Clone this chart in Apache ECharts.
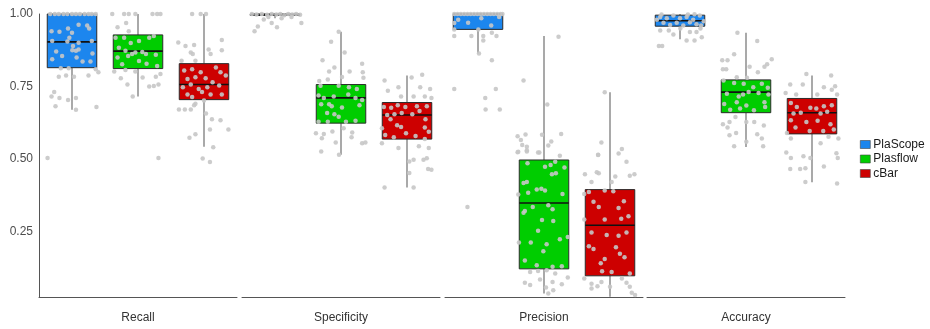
<!DOCTYPE html>
<html>
<head>
<meta charset="utf-8">
<script src="https://cdn.jsdelivr.net/npm/echarts@6/dist/echarts.min.js"></script>
<style>
  html, body { margin: 0; padding: 0; background: #fff; }
  #chart { width: 930px; height: 329px; }
</style>
</head>
<body>
<div id="chart"></div>
<script>
// Facets and tools
const metrics = ['Recall', 'Specificity', 'Precision', 'Accuracy'];
const tools = ['PlaScope', 'Plasflow', 'cBar'];
const toolColors = ['#1C86EE', '#00CD00', '#CD0000'];
const yTicks = [0.25, 0.5, 0.75, 1.0];

// Box statistics per tool: [lower whisker, Q1, median, Q3, upper whisker]
const recallBoxes = [
  [0.670, 0.815, 0.904, 1.000, 1.000],
  [0.716, 0.812, 0.872, 0.928, 1.000],
  [0.543, 0.705, 0.757, 0.829, 1.000]
];
const specificityBoxes = [
  [0.985, 0.995, 0.998, 1.000, 1.000],
  [0.515, 0.624, 0.711, 0.757, 0.939],
  [0.402, 0.569, 0.652, 0.695, 0.788]
];
const precisionBoxes = [
  [0.864, 0.947, 1.000, 1.000, 1.000],
  [0.037, 0.122, 0.349, 0.497, 0.924],
  [0.026, 0.098, 0.272, 0.395, 0.730]
];
const accuracyBoxes = [
  [0.913, 0.958, 0.977, 0.996, 1.000],
  [0.542, 0.660, 0.731, 0.773, 0.935],
  [0.420, 0.587, 0.660, 0.709, 0.788]
];

// Per-sample scores: [jitter, value]
const recallPlaScope = [
  [-0.33,1],[-0.26,1],[-0.2,1],[-0.13,1],[-0.07,1],[0,1],[0.06,1],[0.12,1],[0.19,1],[0.25,1],[0.3,1],[0.36,1],
  [-0.31,0.941],[-0.19,0.939],[-0.06,0.95],[0,0.935],[0.1,0.963],[0.23,0.96],[0.26,0.95],[-0.3,0.907],
  [-0.04,0.918],[0.1,0.901],[0.3,0.907],[-0.24,0.871],[0.005,0.875],[0.06,0.873],[0.1,0.878],[0.31,0.864],
  [-0.3,0.844],[-0.15,0.855],[0.07,0.85],[0.16,0.836],[0.28,0.836],[0.015,0.89],[-0.07,0.905],
  [-0.2,0.784],[-0.09,0.788],[0.03,0.784],[0.25,0.788],[0.4,0.799],[-0.17,0.813],[-0.05,0.813],[0.36,0.81],
  [-0.27,0.731],[-0.31,0.716],[-0.19,0.711],[-0.06,0.704],[0.06,0.711],[-0.25,0.682],[0.06,0.67],[0.37,0.68],
  [-0.37,0.504]
];
const recallPlasflow = [
  [-0.39,1],[-0.21,1],[-0.14,1],[-0.04,1],[0.22,1],[0.29,1],[0.34,1],
  [-0.31,0.954],[-0.18,0.969],[-0.14,0.941],
  [-0.34,0.918],[-0.21,0.918],[-0.11,0.9],[0.015,0.907],[0.17,0.918],[0.24,0.924],[-0.29,0.884],[-0.19,0.873],
  [-0.04,0.867],[0.065,0.869],[0.27,0.86],[-0.31,0.85],[-0.15,0.855],[0.015,0.838],[0.13,0.829],[0.29,0.821],
  [-0.09,0.862],[0.12,0.862],[-0.24,0.827],
  [-0.36,0.802],[-0.19,0.807],[-0.04,0.802],[-0.26,0.779],[0.07,0.781],[0.27,0.784],[0.34,0.793],
  [-0.16,0.757],[0.17,0.75],[0.24,0.752],[0.31,0.757],[-0.08,0.716],[0.31,0.504]
];
const recallCBar = [
  [-0.18,1],[-0.05,1],[0.03,1],
  [-0.39,0.902],[-0.28,0.89],[-0.15,0.893],[0.07,0.878],[0.27,0.875],[0.27,0.91],[-0.2,0.867],[-0.17,0.862],
  [0.1,0.862],[-0.13,0.839],[-0.34,0.839],
  [-0.3,0.805],[-0.18,0.81],[-0.05,0.799],[0.18,0.816],[0.25,0.799],[-0.25,0.776],[-0.13,0.782],[0.025,0.779],
  [0.13,0.765],[0.33,0.788],[-0.32,0.748],[-0.2,0.757],[-0.08,0.742],[0.05,0.748],[0.23,0.754],[-0.25,0.723],
  [-0.18,0.714],[-0.03,0.731],[0.1,0.723],[0.27,0.723],
  [-0.13,0.691],[0,0.702],[-0.38,0.671],[-0.29,0.671],[-0.2,0.671],[-0.15,0.686],[0.03,0.657],[0.12,0.637],
  [0.25,0.634],[0.37,0.602],[0.09,0.602],[-0.13,0.586],[-0.22,0.574],[0.14,0.541],[-0.02,0.502],[0.09,0.49]
];

const specificityPlaScope = [
  [-0.35,1],[-0.28,0.998],[-0.2,1],[-0.12,0.997],[-0.05,1],[0.02,0.998],[0.08,1],[0.14,0.996],[0.2,1],
  [0.26,0.998],[0.32,1],[0.38,0.997],[-0.17,0.981],[-0.05,0.969],[0.03,0.954],[-0.26,0.957],[-0.31,0.941],
  [0.4,0.969],[0.25,0.99],[0.1,0.985],[-0.1,0.99]
];
const specificityPlasflow = [
  [-0.035,0.939],[-0.15,0.904],[0.055,0.867],[-0.28,0.841],[-0.1,0.816],[-0.18,0.802],[0.13,0.802],[0.32,0.829],
  [0.33,0.799],[-0.33,0.769],[-0.2,0.774],[0.015,0.783],[0.34,0.78],
  [-0.31,0.753],[-0.035,0.753],[0.12,0.748],[0.24,0.742],[-0.34,0.719],[-0.26,0.711],[-0.11,0.716],[0.11,0.723],
  [0.22,0.711],[0.32,0.704],[-0.3,0.689],[-0.18,0.689],[-0.14,0.682],[0.28,0.686],[-0.21,0.659],[-0.1,0.655],
  [-0.035,0.646],[-0.34,0.629],[-0.2,0.629],[0.075,0.629],[0.22,0.632],[0.015,0.678],
  [-0.38,0.589],[-0.26,0.587],[-0.13,0.595],[0.04,0.606],[0.17,0.592],[-0.29,0.572],[-0.08,0.557],[0.16,0.575],
  [0.32,0.555],[-0.3,0.526],[-0.03,0.515],[0.37,0.557]
];
const specificityCBar = [
  [-0.34,0.771],[-0.13,0.748],[-0.29,0.736],[0.07,0.781],[0.23,0.791],[0.2,0.748],[0.35,0.742],[0.1,0.716],
  [0.27,0.716],[-0.09,0.716],[0.37,0.711],
  [-0.35,0.68],[-0.24,0.677],[-0.14,0.686],[-0.025,0.68],[0.15,0.682],[0.3,0.682],[-0.3,0.652],[-0.19,0.655],
  [-0.08,0.659],[0.08,0.655],[0.19,0.666],[0.28,0.637],[-0.25,0.637],[-0.15,0.617],[-0.38,0.606],[-0.09,0.611],
  [0.27,0.609],[0.33,0.594],[-0.33,0.583],[-0.2,0.575],[0.13,0.58],[0.27,0.569],[-0.015,0.589],
  [-0.38,0.555],[-0.13,0.538],[0.18,0.544],[0.33,0.538],[0.035,0.492],[0.1,0.498],[0.25,0.498],[0.32,0.466],
  [0.37,0.463],[0.035,0.452],[-0.34,0.402],[0.1,0.402],[0.3,0.503]
];

const precisionPlaScope = [
  [-0.36,1],[-0.31,1],[-0.26,1],[-0.21,1],[-0.16,1],[-0.11,1],[-0.06,1],[-0.01,1],[0.04,1],[0.09,1],[0.14,1],
  [0.19,1],[0.24,1],[0.29,1],[0.34,1],[0.37,1],
  [-0.3,0.98],[-0.15,0.97],[0.05,0.985],[0.2,0.96],[0.32,0.99],[-0.36,0.969],[-0.36,0.947],[0.005,0.947],
  [-0.36,0.924],[-0.1,0.924],[0.08,0.924],[0.08,0.909],[0.21,0.935],[0.28,0.924],[0.015,0.864],[0.21,0.841],
  [-0.36,0.742],[0.27,0.742],[0.11,0.711],[0.115,0.671],[0.33,0.671],[-0.16,0.335]
];
const precisionPlasflow = [
  [0.22,0.922],[-0.31,0.771],[0.05,0.688],[-0.4,0.579],[-0.28,0.585],[-0.35,0.566],[-0.33,0.549],[-0.26,0.543],
  [-0.4,0.524],[-0.26,0.526],[-0.03,0.584],[0.26,0.587],[0.11,0.561],[0.065,0.547],[-0.07,0.523],
  [-0.39,0.525],[-0.26,0.531],[-0.09,0.523],[0.24,0.512],[-0.25,0.486],[0.015,0.474],[0.1,0.48],[0.17,0.491],
  [0.31,0.471],[0.12,0.448],[0.18,0.451],[-0.31,0.418],[-0.26,0.421],[-0.11,0.395],[-0.04,0.398],[0.015,0.392],
  [-0.24,0.384],[0.28,0.38],[-0.39,0.378],[-0.17,0.335],[0.065,0.341],[0.13,0.327],[-0.29,0.321],[-0.31,0.315],
  [-0.03,0.29],[0.14,0.287],[-0.09,0.253],[0.24,0.224],[-0.2,0.213],[0.04,0.207],[0.36,0.232],[-0.38,0.213],
  [-0.01,0.183],[-0.29,0.151],[0.13,0.129],[-0.11,0.134],[0.27,0.131],[-0.21,0.111],[-0.09,0.115],[0.04,0.117],
  [0.17,0.106],[-0.29,0.074],[-0.21,0.066],[0.13,0.077],[0.27,0.069],[0.36,0.092],[0.03,0.058],[0.065,0.037],
  [0.14,0.048],[-0.06,0.085]
];
const precisionCBar = [
  [-0.08,0.73],[-0.13,0.557],[0.18,0.535],[-0.18,0.515],
  [-0.18,0.514],[0.13,0.519],[0.25,0.491],[-0.38,0.448],[-0.2,0.455],[-0.17,0.451],[0.08,0.44],[0.3,0.443],
  [-0.28,0.421],[0.025,0.421],[0.37,0.448],[-0.39,0.38],[-0.32,0.387],[-0.08,0.392],[0.05,0.389],[-0.25,0.353],
  [-0.17,0.335],[0.21,0.355],[0.13,0.332],[-0.39,0.292],[-0.08,0.292],[0.17,0.295],[0.28,0.303],[-0.28,0.247],
  [-0.05,0.239],[0.13,0.236],[0.25,0.247],[-0.32,0.2],[-0.25,0.19],[0.09,0.196],[-0.08,0.156],[0.15,0.174],
  [0.22,0.162],[-0.12,0.114],[0.025,0.111],[-0.14,0.141],[0.3,0.106],[-0.39,0.089],[-0.28,0.071],[-0.19,0.062],
  [-0.13,0.077],[0.25,0.074],[0.3,0.06],[0.18,0.089],[-0.28,0.054],[0,0.06],[0.33,0.04],[0.38,0.032]
];

const accuracyPlaScope = [
  [-0.3,0.99],[-0.2,0.985],[-0.1,0.995],[0,0.985],[0.1,0.99],[0.2,0.98],[0.3,0.995],[0.36,0.975],[-0.25,0.97],
  [-0.05,0.97],[0.15,0.972],[0.25,0.965],[-0.35,0.98],[0.05,0.96],[-0.15,0.962],[0.32,0.96],[-0.28,0.998],
  [0.12,0.998],[0.22,0.999],
  [-0.3,0.943],[-0.17,0.943],[0.005,0.95],[0.31,0.95],[0.25,0.938],[0.15,0.938],[0.1,0.909],[0.22,0.909],
  [0.33,0.92],[-0.1,0.929],[-0.32,0.89],[-0.27,0.89]
];
const accuracyPlasflow = [
  [-0.13,0.935],[0.17,0.907],[-0.36,0.841],[-0.28,0.841],[-0.18,0.861],[0.39,0.844],[0.32,0.827],[-0.35,0.81],
  [-0.3,0.81],[0.055,0.818],[0.18,0.799],[0.28,0.818],[-0.14,0.782],[0.015,0.78],
  [-0.34,0.771],[-0.18,0.762],[-0.035,0.76],[0.11,0.748],[0.24,0.76],[0.33,0.746],[-0.29,0.725],[-0.11,0.716],
  [-0.045,0.723],[0.04,0.731],[0.19,0.728],[0.34,0.723],[-0.33,0.69],[-0.14,0.696],[0.005,0.685],[0.28,0.696],
  [-0.24,0.67],[-0.09,0.674],[0.12,0.668],[0.29,0.68],
  [-0.16,0.645],[-0.25,0.628],[-0.35,0.62],[-0.28,0.609],[0.005,0.628],[0.125,0.628],[0.27,0.616],[-0.15,0.59],
  [-0.25,0.582],[0.17,0.586],[0.005,0.56],[0.24,0.571],[-0.18,0.544],[0.26,0.544]
];
const accuracyCBar = [
  [-0.085,0.793],[0.29,0.788],[-0.33,0.757],[-0.14,0.757],[0.18,0.748],[0.3,0.739],[0.35,0.751],[-0.4,0.728],
  [-0.24,0.723],[0.08,0.723],[0.38,0.723],
  [-0.32,0.693],[-0.23,0.68],[-0.025,0.677],[0.065,0.674],[0.18,0.682],[0.3,0.686],[-0.28,0.657],[-0.17,0.66],
  [0.13,0.657],[0.23,0.663],[-0.32,0.634],[-0.085,0.628],[0.085,0.632],[0.28,0.62],[-0.25,0.609],[-0.035,0.597],
  [0.17,0.597],[0.33,0.602],[-0.38,0.59],
  [-0.32,0.571],[0.13,0.555],[0.25,0.577],[0.4,0.571],[-0.39,0.523],[-0.32,0.504],[-0.13,0.51],[-0.025,0.504],
  [0.37,0.52],[0.39,0.504],[-0.18,0.466],[-0.33,0.466],[-0.1,0.469],[0.18,0.475],[-0.1,0.421],[0.38,0.416]
];

const boxesByMetric = [recallBoxes, specificityBoxes, precisionBoxes, accuracyBoxes];
const pointsByMetric = [
  [recallPlaScope, recallPlasflow, recallCBar],
  [specificityPlaScope, specificityPlasflow, specificityCBar],
  [precisionPlaScope, precisionPlasflow, precisionCBar],
  [accuracyPlaScope, accuracyPlasflow, accuracyCBar]
];

const FONT = '"Liberation Sans", Arial, sans-serif';
const panelLeft = [39, 242, 445, 647];
const panelWidth = 198;
const Y_MIN = 0.025, Y_MAX = 1.0;

// Whiskers, box and median drawn in data coordinates of the panel's axes
function renderBox(params, api) {
  const x = api.value(0);
  const pLo = api.coord([x, api.value(1)]);
  const pQ1 = api.coord([x, api.value(2)]);
  const pMed = api.coord([x, api.value(3)]);
  const pQ3 = api.coord([x, api.value(4)]);
  const pHi = api.coord([x, api.value(5)]);
  const w = api.size([0.75, 0])[0];
  const cx = pLo[0];
  const whisker = { stroke: '#8c8c8c', lineWidth: 1.5 };
  return {
    type: 'group',
    children: [
      { type: 'line', shape: { x1: cx, y1: pHi[1], x2: cx, y2: pQ3[1] }, style: whisker },
      { type: 'line', shape: { x1: cx, y1: pQ1[1], x2: cx, y2: pLo[1] }, style: whisker },
      { type: 'rect', shape: { x: cx - w / 2, y: pQ3[1], width: w, height: Math.max(pQ1[1] - pQ3[1], 0.5) },
        style: { fill: api.visual('color'), stroke: '#2b2b2b', lineWidth: 1 } },
      { type: 'line', shape: { x1: cx - w / 2, y1: pMed[1], x2: cx + w / 2, y2: pMed[1] },
        style: { stroke: '#111', lineWidth: 1.6 } }
    ]
  };
}

const grid = [], xAxis = [], yAxis = [], series = [];
metrics.forEach((m, i) => {
  grid.push({ left: panelLeft[i], width: panelWidth, top: 14, height: 286 });
  xAxis.push({
    type: 'value', gridIndex: i, min: -0.5, max: 2.5,
    name: m, nameLocation: 'middle', nameGap: 15,
    nameTextStyle: { fontFamily: FONT, fontSize: 12, color: '#333' },
    axisLine: { show: true, onZero: false, lineStyle: { color: '#555', width: 1 } },
    axisTick: { show: false }, axisLabel: { show: false }, splitLine: { show: false }
  });
  yAxis.push({
    type: 'value', gridIndex: i, min: Y_MIN, max: Y_MAX,
    axisLine: { show: i === 0, onZero: false, lineStyle: { color: '#555', width: 1 } },
    axisTick: { show: false },
    axisLabel: {
      show: i === 0, customValues: yTicks, margin: 6,
      formatter: v => v.toFixed(2),
      fontFamily: FONT, fontSize: 12, color: '#4d4d4d'
    },
    splitLine: { show: false }
  });
  tools.forEach((t, k) => {
    series.push({
      type: 'custom', name: t, xAxisIndex: i, yAxisIndex: i,
      itemStyle: { color: toolColors[k] },
      renderItem: renderBox,
      encode: { x: 0, y: [1, 2, 3, 4, 5] },
      data: [[k].concat(boxesByMetric[i][k])],
      z: 2
    });
  });
  const pts = [];
  pointsByMetric[i].forEach((list, k) => list.forEach(([j, v]) => pts.push([k + j, v])));
  series.push({
    type: 'scatter', xAxisIndex: i, yAxisIndex: i, data: pts,
    symbolSize: 4.5, clip: false, silent: true,
    itemStyle: { color: '#c6c6c6', opacity: 0.9 }, z: 5
  });
});

const chart = echarts.init(document.getElementById('chart'), null, { renderer: 'canvas' });
chart.setOption({
  animation: false,
  backgroundColor: '#fff',
  grid, xAxis, yAxis, series,
  legend: {
    data: tools, orient: 'vertical', left: 860, top: 138,
    itemWidth: 10, itemHeight: 8, itemGap: 1.5, icon: 'rect',
    itemStyle: { borderColor: '#444', borderWidth: 0.6 },
    textStyle: { fontFamily: FONT, fontSize: 12, color: '#1a1a1a', lineHeight: 13, padding: [0, 0, 0, -2] },
    padding: 0,
    selectedMode: false
  }
});
</script>
</body>
</html>
